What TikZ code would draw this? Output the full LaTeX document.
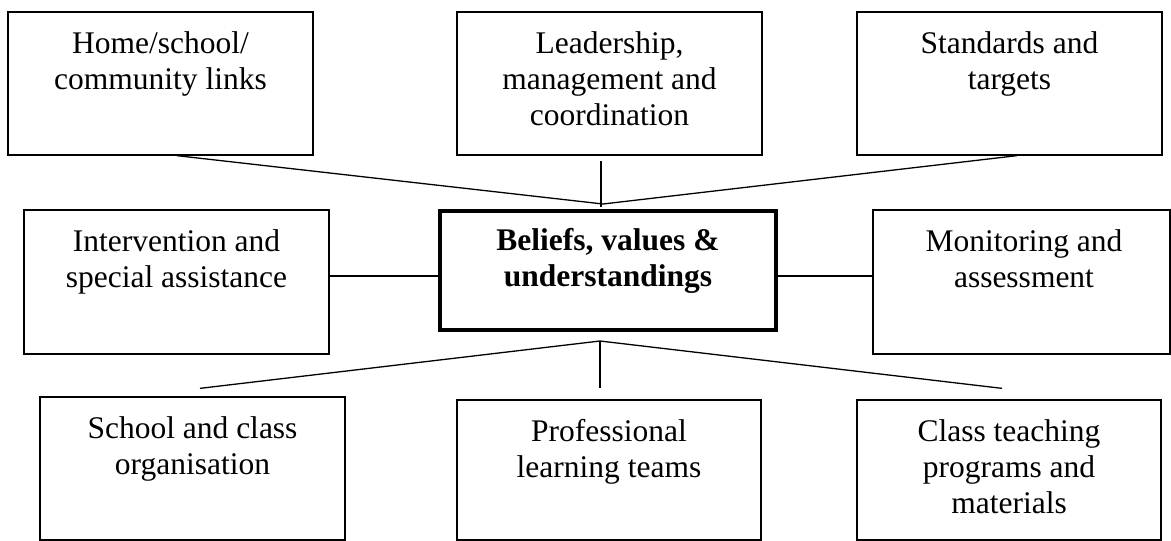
\documentclass[tikz,border=0pt]{standalone}
\usepackage{fontspec}
\setmainfont{Liberation Serif}
\usepackage{tikz}
\usetikzlibrary{calc, positioning}

\begin{document}
\begin{tikzpicture}[x=1pt, y=-1pt,
    box/.style={draw, line width=1.3pt, minimum width=305pt, minimum height=143pt, inner sep=0pt},
    corebox/.style={box, line width=3.3pt, minimum width=336pt, minimum height=119pt},
    txt/.style={align=center, inner sep=0pt, font=\fontsize{31.5}{36}\selectfont, execute at begin node=\strut},
    link/.style={line width=1.3pt}]

    % kich thuoc trang
    \useasboundingbox (0,0) rectangle (1171,541);

    % hang tren
    \node[box] (home)  at (160.5,83.5) {};
    \node[box] (lead)  at (609.5,83.5) {};
    \node[box] (stand) at (1009.5,83.5) {};

    % hang giua
    \node[box, minimum height=144pt] (interv) at (176.5,282) {};
    \node[corebox] (core) at (608,270.5) {};
    \node[box, minimum width=297pt, minimum height=144pt] (monit) at (1021.5,282) {};

    % hang duoi
    \node[box] (org) at (192.5,468.5) {};
    \node[box, minimum width=304pt, minimum height=140pt] (plt)  at (609,470) {};
    \node[box, minimum width=304pt, minimum height=140pt] (prog) at (1009,470) {};

    % chu trong cac o
    \node[txt, below=20pt of home.north]   {Home/school/\\community links};
    \node[txt, below=20pt of lead.north]   {Leadership,\\management and\\coordination};
    \node[txt, below=20pt of stand.north]  {Standards and\\targets};
    \node[txt, below=20pt of interv.north] {Intervention and\\special assistance};
    \node[txt, below=19pt of core.north, font=\fontsize{31.5}{36}\selectfont\bfseries] {Beliefs, values \&\\understandings};
    \node[txt, below=20pt of monit.north, xshift=2.5pt] {Monitoring and\\assessment};
    \node[txt, below=20pt of org.north]    {School and class\\organisation};
    \node[txt, below=20pt of plt.north]    {Professional\\learning teams};
    \node[txt, below=20pt of prog.north]   {Class teaching\\programs and\\materials};

    % cac diem noi
    \coordinate (tophub) at (603,204);
    \coordinate (leadend) at (601,207);
    \coordinate (bothub) at (600,341);
    \coordinate (orgend)  at ($(org.north)+(7.5,-8)$);
    \coordinate (pltend)  at ($(plt.north)+(-9,-11)$);
    \coordinate (progend) at ($(prog.north)+(-7,-11)$);

    % duong noi
    \draw[link] ($(home.south)+(16.5,0)$) -- (tophub);
    \draw[link] ($(lead.south)+(-8.5,5)$) -- (leadend);
    \draw[link] ($(stand.south)+(7.5,0)$) -- (tophub);
    \draw[link] ($(interv.east)+(0,-6)$) -- ($(core.west)+(0,5.5)$);
    \draw[link] ($(core.east)+(0,5.5)$) -- ($(monit.west)+(0,-6)$);
    \draw[link] (bothub) -- (orgend);
    \draw[link] (bothub) -- (pltend);
    \draw[link] (bothub) -- (progend);

\end{tikzpicture}
\end{document}
